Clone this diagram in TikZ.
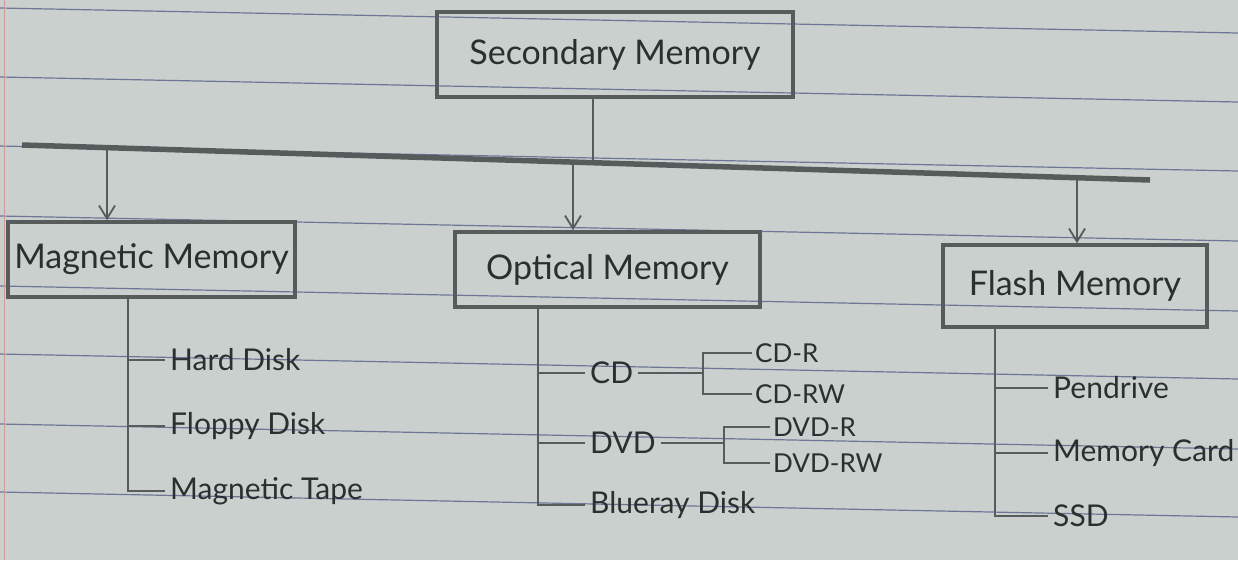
\documentclass[tikz,border=0pt]{standalone}
\usepackage{fontspec}
\setmainfont{Lato}
\usetikzlibrary{arrows.meta}
\definecolor{paper}{HTML}{C9D0CD}
\definecolor{pencil}{HTML}{565C5C}
\definecolor{ink}{HTML}{2A2F2F}
\definecolor{ruling}{HTML}{6E7698}
\definecolor{margin}{HTML}{D49A9A}
\begin{document}
\begin{tikzpicture}[x=1pt,y=-1pt,
  box/.style={draw=pencil, line width=3.5pt, inner sep=0pt, text=ink, font=\fontsize{34}{36}\selectfont},
  item/.style={anchor=west, inner sep=5pt, text=ink, font=\fontsize{30}{32}\selectfont},
  sub/.style={anchor=west, inner sep=3pt, text=ink, font=\fontsize{26}{28}\selectfont},
  wire/.style={draw=pencil, line width=2.8pt},
  bus/.style={draw=pencil, line width=5.5pt},
  arr/.style={draw=pencil, line width=1.8pt, -{Straight Barb[length=13pt,width=16pt]}},
  ruled/.style={draw=ruling, line width=1.2pt}]
% paper
\fill[paper] (0,0) rectangle (1238,560);
\useasboundingbox (0,0) rectangle (1238,560);
\foreach \y in {8,77,146,216,286,354,424,492}
  \draw[ruled] (0,\y) -- (1238,\y+25);
\draw[margin, line width=1pt] (4,0) -- (4,560);

% top node
\node[box, minimum width=356pt, minimum height=85pt] (sec) at (615,54.5) {Secondary Memory};

% bus
\coordinate (busL) at (22,145);
\coordinate (busR) at (1150,180);
\draw[bus] (busL) -- (busR);
\coordinate (bs) at (593,162.7);
\draw[wire] (sec.south -| bs) -- (bs);

% second level
\node[box, minimum width=287pt, minimum height=75pt] (mag) at (151.5,259.5) {Magnetic Memory};
\node[box, minimum width=305pt, minimum height=75pt] (opt) at (607.5,269.5) {Optical Memory};
\node[box, minimum width=264pt, minimum height=82pt] (fla) at (1075,286) {Flash Memory};

\coordinate (a1) at (107,147.6);
\coordinate (a2) at (573,162.1);
\coordinate (a3) at (1077,177.7);
\draw[arr] (a1) -- (mag.north -| a1);
\draw[arr] (a2) -- (opt.north -| a2);
\draw[arr] (a3) -- (fla.north -| a3);

% magnetic items
\node[item] (hd) at (165,360) {Hard Disk};
\node[item] (fd) at (165,426) {Floppy Disk};
\node[item] (mt) at (165,491) {Magnetic Tape};
\coordinate (mtr) at (128,0);
\draw[wire] (mag.south -| mtr) |- (mt.west);
\draw[wire] (hd.west -| mtr) -- (hd.west);
\draw[wire] (fd.west -| mtr) -- (fd.west);

% optical items
\node[item] (cd) at (585,373) {CD};
\node[item] (dvd) at (585,443) {DVD};
\node[item] (br) at (585,505) {Blueray Disk};
\coordinate (otr) at (538,0);
\draw[wire] (opt.south -| otr) |- (br.west);
\draw[wire] (cd.west -| otr) -- (cd.west);
\draw[wire] (dvd.west -| otr) -- (dvd.west);

% CD types
\node[sub] (cdr) at (752,353) {CD-R};
\node[sub] (cdrw) at (752,394) {CD-RW};
\coordinate (cdb) at (703,373);
\draw[wire] (cd.east) -- (cdb);
\draw[wire] (cdr.west) -| (cdb) |- (cdrw.west);

% DVD types
\node[sub] (dvdr) at (770,427) {DVD-R};
\node[sub] (dvdrw) at (770,463) {DVD-RW};
\coordinate (dvb) at (724,443);
\draw[wire] (dvd.east) -- (dvb);
\draw[wire] (dvdr.west) -| (dvb) |- (dvdrw.west);

% flash items
\node[item] (pen) at (1048,388) {Pendrive};
\node[item] (mc) at (1048,453) {Memory Card};
\node[item] (ssd) at (1048,516) {SSD};
\coordinate (ftr) at (995,0);
\draw[wire] (fla.south -| ftr) |- (ssd.west);
\draw[wire] (pen.west -| ftr) -- (pen.west);
\draw[wire] (mc.west -| ftr) -- (mc.west);
\end{tikzpicture}
\end{document}
